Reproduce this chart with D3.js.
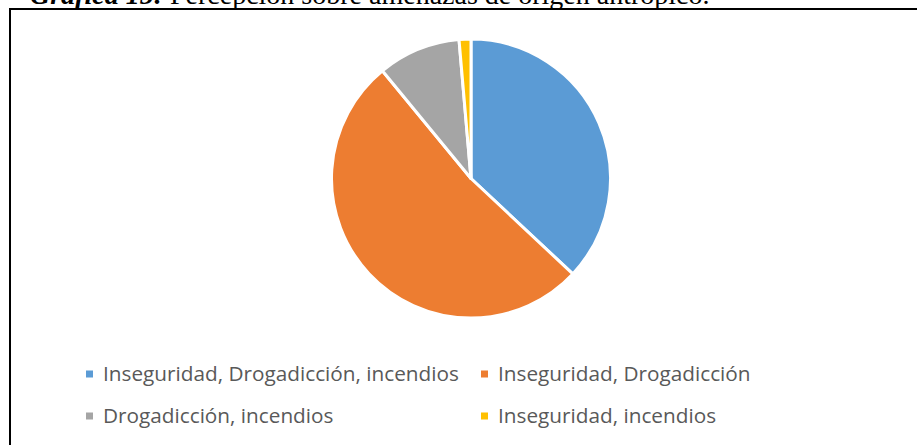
<!DOCTYPE html>
<html>
<head>
<meta charset="utf-8">
<script src="https://cdn.jsdelivr.net/npm/d3@7"></script>
<style>
  body { margin: 0; background: #fff; }
  svg { display: block; }
</style>
</head>
<body>
<div class="chart"></div>
<script>
const width = 917;
const height = 445;

// data (counts, total 73)
const categories = [
    "Inseguridad, Drogadicción, incendios",
    "Inseguridad, Drogadicción",
    "Drogadicción, incendios",
    "Inseguridad, incendios"
];
const values = [27, 38, 7, 1];
const colors = ["#5B9BD5", "#ED7D31", "#A5A5A5", "#FFC000"];

const svg = d3.select(".chart")
    .append("svg")
    .attr("width", width)
    .attr("height", height)
    .attr("viewBox", [0, 0, width, height]);

// title, cut off at the top in the reference
const title = svg.append("text")
    .attr("x", 30)
    .attr("y", 4)
    .attr("font-family", "'Liberation Serif', 'Times New Roman', serif")
    .attr("font-size", 20)
    .attr("fill", "#000");
title.append("tspan").attr("font-weight", "bold").attr("font-style", "italic").text("Gráfica 15:");
title.append("tspan").text(" Percepción sobre amenazas de origen antrópico.");
// stretch to the reference width
const tw = title.node().getComputedTextLength();
title.attr("font-size", 20 * 680 / tw);

// frame
svg.append("path")
    .attr("d", "M10,445 V9 H917")
    .attr("fill", "none")
    .attr("stroke", "#000")
    .attr("stroke-width", 2);

// pie
const cx = 471, cy = 178.5, r = 139.5;
const pie = d3.pie().sort(null).value(d => d)(values);
const arc = d3.arc().innerRadius(0).outerRadius(r);

svg.append("g")
    .attr("transform", `translate(${cx},${cy})`)
    .selectAll("path")
    .data(pie)
    .join("path")
    .attr("d", arc)
    .attr("fill", (d, i) => colors[i])
    .attr("stroke", "#fff")
    .attr("stroke-width", 3)
    .attr("stroke-linejoin", "round");

// legend, 2 columns
const colX = [86, 481];
const rowY = [374, 416];
const legend = svg.append("g")
    .selectAll("g")
    .data(categories)
    .join("g")
    .attr("transform", (d, i) => `translate(${colX[i % 2]},${rowY[Math.floor(i / 2)]})`);

legend.append("rect")
    .attr("x", 0)
    .attr("y", -3.5)
    .attr("width", 7)
    .attr("height", 7)
    .attr("fill", (d, i) => colors[i]);

const labels = legend.append("text")
    .attr("x", 17)
    .attr("y", 0)
    .attr("dy", "0.35em")
    .attr("font-family", "'Open Sans', sans-serif")
    .attr("font-size", 17)
    .attr("fill", "#595959")
    .text(d => d);

// size the font so the first label spans about 356px like the reference
const lw = labels.nodes()[0].getComputedTextLength();
labels.attr("font-size", 17 * 356 / lw);
</script>
</body>
</html>
